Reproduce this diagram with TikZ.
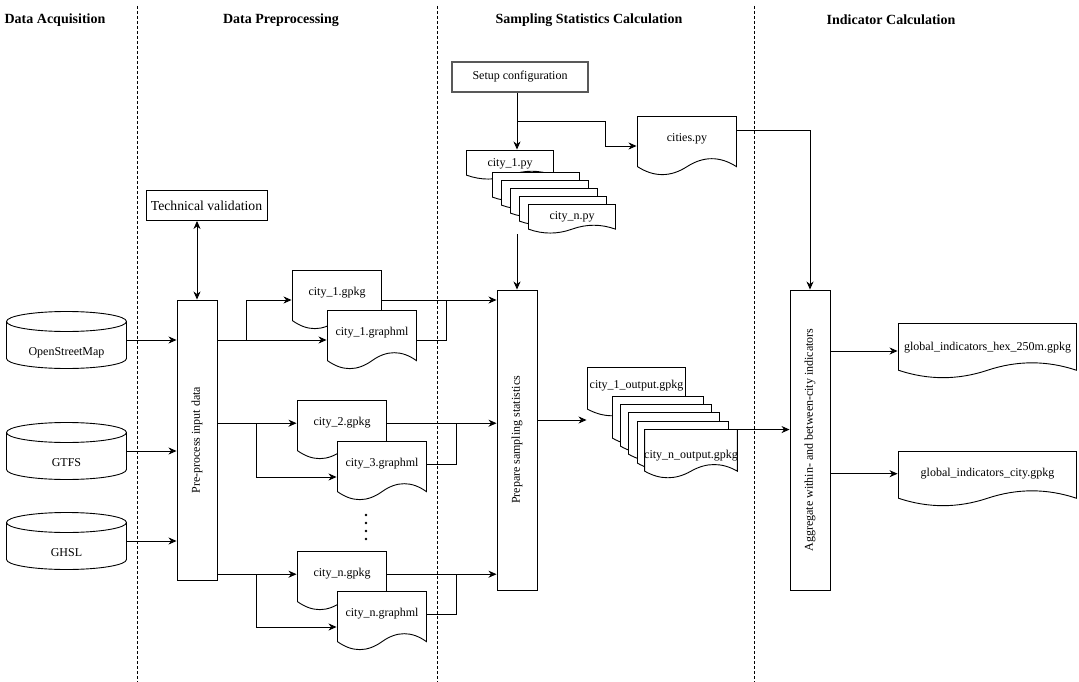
\documentclass[tikz,border=0pt]{standalone}
\usepackage{fontspec}
\setmainfont{Liberation Serif}
\usepackage{graphicx}
\usetikzlibrary{arrows.meta,calc}

\tikzset{
  divider/.style={line width=0.7pt, dash pattern=on 3pt off 2pt},
  phase/.style={font=\fontsize{14}{16}\selectfont\bfseries},
  procbox/.style={draw, line width=0.9pt, inner sep=0pt, font=\fontsize{12}{14}\selectfont},
  doc/.style={inner sep=0pt, minimum height=60pt, text height=8pt, text depth=#1,
    font=\fontsize{12}{14}\selectfont,
    path picture={
      \filldraw[fill=white, line width=0.9pt]
        let \p1=([shift={(0.5pt,-0.5pt)}]path picture bounding box.north west),
            \p2=([shift={(-0.5pt,0.5pt)}]path picture bounding box.south east),
            \n1={\y1-\y2}, \n2={\x2-\x1} in
        (\p1) -- (\x2,\y1) -- (\x2,{\y2+0.15*\n1})
        .. controls ({\x2-\n2/6},{\y2+0.33*\n1}) and ({\x1+2*\n2/3},{\y2+0.33*\n1})
        .. ({\x1+\n2/2},{\y2+0.15*\n1})
        .. controls ({\x1+\n2/3},{\y2-0.03*\n1}) and ({\x1+\n2/6},{\y2-0.03*\n1})
        .. (\x1,{\y2+0.15*\n1}) -- cycle;
    }},
  doc/.default=17pt,
  dbase/.style={inner sep=0pt, minimum width=121pt, minimum height=58pt,
    text height=30pt, text depth=0pt, font=\fontsize{12}{14}\selectfont,
    path picture={
      \draw[line width=0.9pt]
        let \p1=([shift={(0.5pt,-0.5pt)}]path picture bounding box.north west),
            \p2=([shift={(-0.5pt,0.5pt)}]path picture bounding box.south east),
            \n1={(\x2-\x1)/2} in
        (\x1,{\y1-10pt}) -- (\x1,{\y2+10pt})
        arc[start angle=180, end angle=360, x radius={\n1*1pt}, y radius=10pt]
        -- (\x2,{\y1-10pt})
        arc[start angle=0, end angle=360, x radius={\n1*1pt}, y radius=10pt];
    }}
}

\begin{document}
\begin{tikzpicture}[x=1pt, y=-1pt, line width=0.9pt,
    >={Stealth[length=8pt,width=7pt,inset=2.5pt]}]
\useasboundingbox (0,0) rectangle (1079,682);

% phase titles and column dividers
\node[phase] (tacq) at (55,20) {Data Acquisition};
\node[phase] (tpre) at (281,20) {Data Preprocessing};
\node[phase] (tsam) at (589,20) {Sampling Statistics Calculation};
\node[phase] (tind) at (891,20) {Indicator Calculation};
\foreach \x in {137,437,754}
    \draw[divider] (\x,6) -- (\x,682);

% data sources
\begin{scope}[every node/.style={dbase}]
    \node (osm) at (66.5,340) {OpenStreetMap};
    \node (gtfs) at (66.5,451) {GTFS};
    \node (ghsl) at (66.5,541) {GHSL};
\end{scope}

% process boxes
\begin{scope}[every node/.style={procbox, minimum width=40pt, minimum height=300pt}]
    \node[minimum height=280pt] (prep) at (197,440) {\rotatebox{90}{Pre-process input data}};
    \node (samp) at (517,440) {\rotatebox{90}{Prepare sampling statistics}};
    \node (agg) at (810,440) {\rotatebox{90}{Aggregate within- and between-city indicators}};
\end{scope}
\node[procbox, font=\fontsize{13.7}{16}\selectfont, minimum width=121pt, minimum height=30pt] (valid) at (206.5,205.5) {Technical validation};
\node[procbox, draw=black!65, line width=1.3pt, minimum width=136pt, minimum height=30pt] (setup) at (520,77) {Setup configuration};

% city files
\begin{scope}[every node/.style={doc, minimum width=90pt}]
    \node (g1) at (337,300) {city\_1.gpkg};
    \node (m1) at (372,340) {city\_1.graphml};
    \node (g2) at (342,430) {city\_2.gpkg};
    \node (m3) at (382,471) {city\_3.graphml};
    \node (gn) at (342,581) {city\_n.gpkg};
    \node (mn) at (382,621) {city\_n.graphml};
    \node[minimum width=100pt, text depth=16pt] (cities) at (687,146) {cities.py};
\end{scope}
\foreach \y in {515,523,531,539}
    \fill (366,\y) circle (1.3pt);

% config files
\begin{scope}[every node/.style={doc=6pt, minimum width=88pt, minimum height=30pt}]
    \node (py1) at (510,165) {city\_1.py};
    \node (py2) at (536,187) {};
    \node (py3) at (545,195) {};
    \node (py4) at (554,203) {};
    \node (py5) at (563,211) {};
    \node[text depth=8pt] (pyn) at (572,219) {city\_n.py};
\end{scope}

% output files
\begin{scope}[every node/.style={doc=16pt, minimum width=92pt, minimum height=50pt}]
    \node[minimum width=99pt] (out1) at (636.5,392) {city\_1\_output.gpkg};
    \node (out2) at (658,421) {};
    \node (out3) at (666,429) {};
    \node (out4) at (674,437) {};
    \node (out5) at (683,446) {};
    \node[text depth=0pt] (outn) at (691,454) {city\_n\_output.gpkg};
\end{scope}
\begin{scope}[every node/.style={doc=10pt, minimum width=179pt, minimum height=56pt}]
    \node (hex) at (987.5,351) {global\_indicators\_hex\_250m.gpkg};
    \node[text depth=14pt] (cityg) at (987.5,479) {global\_indicators\_city.gpkg};
\end{scope}

% junctions
\coordinate (b1) at ($(prep.east |- m1.west)+(29,0)$);
\coordinate (b2) at ($(prep.east |- g2.mid west)+(39,0)$);
\coordinate (bn) at ($(prep.east |- gn.mid west)+(39,0)$);
\coordinate (j1) at ($(g1.east -| samp.west)+(-50,0)$);
\coordinate (j2) at ($(g2.mid east -| samp.west)+(-40,0)$);
\coordinate (jn) at ($(gn.mid east -| samp.west)+(-40,0)$);
\coordinate (jc) at ($(setup.south -| samp.north)!0.5!(py1.north -| samp.north)$);

% connectors
\begin{scope}[every edge/.style={draw,->}]
    \path (osm.east) edge (osm.east -| prep.west);
    \path (gtfs.east) edge (gtfs.east -| prep.west);
    \path (ghsl.east) edge (ghsl.east -| prep.west);
    \path (valid.south -| prep.north) edge[<->] (prep.north);
    \path (prep.east |- m1.west) edge (m1.west);
    \path (prep.east |- g2.mid west) edge (g2.mid west);
    \path (prep.east |- gn.mid west) edge (gn.mid west);
    \path (g1.east) edge (g1.east -| samp.west);
    \path (g2.mid east) edge (g2.mid east -| samp.west);
    \path (gn.mid east) edge (gn.mid east -| samp.west);
    \path (setup.south -| samp.north) edge (py1.north -| samp.north);
    \path (pyn.south -| samp.north) edge (samp.north);
    \path ([yshift=20pt]samp.east) edge ([yshift=20pt]samp.east -| out1.west);
    \path ([yshift=-1pt]outn.north east) edge ([yshift=-1pt]outn.north east -| agg.west);
    \path (agg.east |- hex.west) edge (hex.west);
    \path (agg.east |- cityg.mid west) edge (cityg.mid west);
\end{scope}
\draw[->] (b1) |- (g1.west);
\draw[->] (b2) |- ([yshift=-6pt]m3.west);
\draw[->] (bn) |- ([yshift=-6pt]mn.west);
\draw (m1.east) -| (j1);
\draw (m3.mid east) -| (j2);
\draw (mn.mid east) -| (jn);
\draw[->] (jc) -| ($(cities.west)+(-31,0)$) -- (cities.west);
\draw[->] ([yshift=16pt]cities.east) -| (agg.north);
\end{tikzpicture}
\end{document}
